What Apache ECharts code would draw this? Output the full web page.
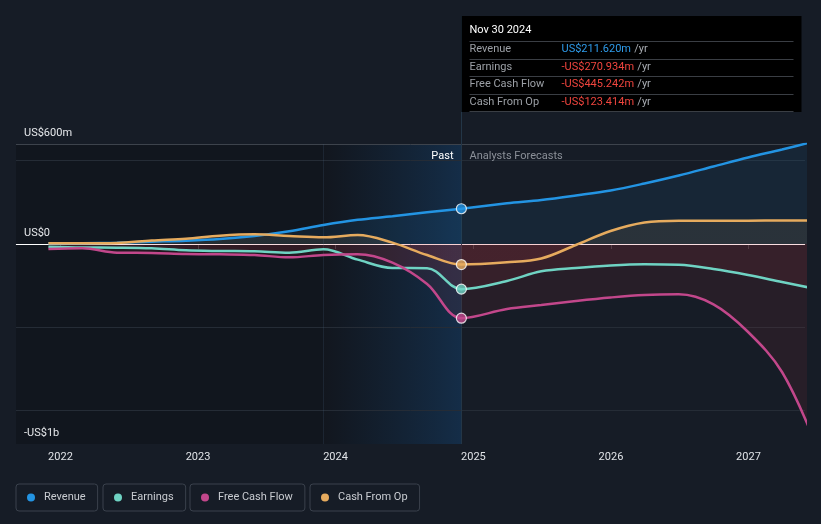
<!DOCTYPE html>
<html><head><meta charset="utf-8">
<script src="https://cdn.jsdelivr.net/npm/echarts@6/dist/echarts.min.js"></script>
<style>html,body{margin:0;padding:0;background:#161c26;}#c{width:821px;height:524px;}</style>
</head><body><div id="c"></div>
<script>
// ---- data ----
const pastDates = ['2021-11-30','2022-02-28','2022-05-31','2022-08-31','2022-11-30','2023-02-28','2023-05-31','2023-08-31','2023-11-30','2024-02-29','2024-05-31','2024-08-31','2024-11-30'];
const forecastDates = ['2025-03-31','2025-06-30','2025-09-30','2025-12-31','2026-03-31','2026-06-30','2026-09-30','2026-12-31','2027-03-31','2027-06-30'];
const revenuePast = [4,5,8,14,20,30,48,76,114,145,166,190,211.62];
const revenueForecast = [244,264,291,321,363,411,465,519,567,618];
const earningsPast = [-16,-21,-22,-26,-38,-42,-44,-52,-32,-94,-144,-145,-270.934];
const earningsForecast = [-222,-164,-144,-129,-122,-125,-150,-186,-228,-270];
const fcfPast = [-30,-26,-52,-54,-60,-62,-66,-80,-66,-62,-112,-240,-445.242];
const fcfForecast = [-390,-366,-342,-321,-306,-302,-362,-528,-768,-1210];
const cfoPast = [4,4,6,21,32,50,58,48,40,54,8,-66,-123.414];
const cfoForecast = [-110,-87,-6,78,129,140,140,140,141,141];
const seriesNames = ['Revenue','Earnings','Free Cash Flow','Cash From Op'];
const yTickValues = [600, 0, -1200];
const yTickLabels = ['US$600m', 'US$0', '-US$1b'];
const gridValues = [600, 500, -500, -1000];
const xMin = '2021-09-05', xMax = '2027-05-31';
const bandStart = '2023-11-30';

// ---- styling ----
const FONT = 'Roboto, "Noto Sans", sans-serif';
const COLORS = ['#2394e3', '#6fd3c3', '#c2478b', '#e6ab5e'];
const nowDate = pastDates[pastDates.length - 1];

function pairs(d, v) { return d.map((x, i) => [x, v[i]]); }
const allDates = pastDates.concat(forecastDates);
const seriesValues = [
  revenuePast.concat(revenueForecast),
  earningsPast.concat(earningsForecast),
  fcfPast.concat(fcfForecast),
  cfoPast.concat(cfoForecast)
];
const nowValues = [revenuePast, earningsPast, fcfPast, cfoPast].map(a => a[a.length - 1]);

const chart = echarts.init(document.getElementById('c'), null, {renderer: 'canvas'});

const legendLefts = [16, 103, 190, 310];
const legends = seriesNames.map((n, i) => ({
  data: [n], left: legendLefts[i], top: 484, orient: 'horizontal',
  icon: 'circle', itemWidth: 16, itemHeight: 8, symbolKeepAspect: true,
  padding: [7, 12, 7, 11], borderColor: '#3a414c', borderWidth: 1, borderRadius: 3,
  selectedMode: false,
  textStyle: {color: '#c9ccd1', fontSize: 11, fontFamily: FONT, lineHeight: 13}
}));

function mkSeries(fillTop, fillBot) {
  return seriesNames.map((n, i) => ({
    name: n, type: 'line', data: pairs(allDates, seriesValues[i]),
    smooth: 0.35, showSymbol: false, symbol: 'none', z: 3,
    lineStyle: {color: COLORS[i], width: 2.5},
    itemStyle: {color: COLORS[i]},
    areaStyle: {origin: 0, color: (i === 0) ? 'rgba(35,148,227,0.12)' :
      (i === 3 ? new echarts.graphic.LinearGradient(0, fillTop, 0, fillBot, [
        {offset: 0, color: 'rgba(230,171,94,0.13)'},
        {offset: 1/3, color: 'rgba(230,171,94,0.13)'},
        {offset: 1/3, color: 'rgba(220,60,70,0.12)'},
        {offset: 1, color: 'rgba(220,60,70,0.12)'}], true)
      : 'rgba(220,60,70,0.12)')},
    emphasis: {disabled: true}
  }));
}

function buildOption(fillTop, fillBot) {
  return {
    backgroundColor: '#161c26',
    animation: false,
    textStyle: {fontFamily: FONT},
    grid: {left: 16, right: 16, top: 144, bottom: 80, outerBoundsMode: 'none', containLabel: false},
    legend: legends,
    xAxis: {
      type: 'time', min: xMin, max: xMax,
      minInterval: 365 * 24 * 3600 * 1000, maxInterval: 366 * 24 * 3600 * 1000,
      axisLine: {show: true, lineStyle: {color: '#3a4048', width: 1}},
      axisTick: {show: true, length: 5, lineStyle: {color: '#3a4048'}},
      splitLine: {show: false},
      axisLabel: {color: '#e0e3e7', fontSize: 11, fontFamily: FONT, margin: 8,
        showMinLabel: false, showMaxLabel: false,
        formatter: v => String(new Date(v).getFullYear())}
    },
    yAxis: {
      type: 'value', min: -1200, max: 600, interval: 100,
      axisLine: {show: false}, axisTick: {show: false}, splitLine: {show: false},
      axisLabel: {inside: true, margin: 8, verticalAlign: 'bottom', padding: [0, 0, 5, 0],
        color: '#e6e8eb', fontSize: 11, fontFamily: FONT,
        formatter: v => { const i = yTickValues.indexOf(v); return i >= 0 ? yTickLabels[i] : ''; }}
    },
    series: [
      {
        name: 'bg', type: 'line', data: [[xMin, null]], silent: true, z: 1,
        markArea: {silent: true, z: 0, data: [
          [{xAxis: xMin, itemStyle: {color: 'rgba(0,0,0,0.2)'}}, {xAxis: bandStart}],
          [{xAxis: bandStart, itemStyle: {color: new echarts.graphic.LinearGradient(0, 0, 1, 0, [
            {offset: 0, color: 'rgba(0,0,0,0.2)'}, {offset: 1, color: 'rgba(15,100,180,0.24)'}])}},
           {xAxis: nowDate}]
        ]},
        markLine: {silent: true, symbol: 'none', z: 1, label: {show: false}, animation: false,
          data: gridValues.map(v => ({yAxis: v, lineStyle: {type: 'solid', width: 1,
              color: v === 600 ? '#3d434c' : '#252c36'}}))
            .concat([{yAxis: 0, lineStyle: {type: 'solid', width: 1, color: '#ffffff'}},
                     {xAxis: bandStart, lineStyle: {type: 'solid', width: 1, color: 'rgba(70,100,130,0.2)'}}])
        }
      }
    ].concat(mkSeries(fillTop, fillBot)).concat([{
      name: 'now', type: 'scatter', z: 6, symbolSize: 10, silent: true,
      data: nowValues.map((v, i) => ({value: [nowDate, v],
        itemStyle: {color: COLORS[i], borderColor: '#ffffff', borderWidth: 1.2}}))
    }])
  };
}

chart.setOption(buildOption(144, 444));
const yTop = chart.convertToPixel({yAxisIndex: 0}, 600);
const yBot = chart.convertToPixel({yAxisIndex: 0}, -1200);
chart.setOption(buildOption(yTop, yBot), true);

// ---- static tooltip box at the current date ----
const x0 = Math.round(chart.convertToPixel({xAxisIndex: 0}, nowDate)) + 0.5;
const months = ['Jan','Feb','Mar','Apr','May','Jun','Jul','Aug','Sep','Oct','Nov','Dec'];
const nd = new Date(nowDate + 'T00:00:00');
const title = months[nd.getMonth()] + ' ' + nd.getDate() + ' ' + nd.getFullYear();
function fmt(v) { return (v < 0 ? '-US$' : 'US$') + Math.abs(v).toFixed(3) + 'm'; }
const boxTop = 16, rowH = 17.5;
const els = [
  {type: 'line', z: 1, silent: true, shape: {x1: x0, y1: boxTop, x2: x0, y2: yBot},
   style: {stroke: '#233647', lineWidth: 1}},
  {type: 'rect', z: 10, silent: true, shape: {x: x0, y: boxTop, width: 340, height: 96},
   style: {fill: '#000000'}},
  {type: 'text', z: 11, silent: true, style: {text: title, x: x0 + 8, y: boxTop + 14.5,
   fill: '#ffffff', font: '11px ' + FONT, verticalAlign: 'middle'}},
  {type: 'text', z: 11, silent: true, style: {text: 'Past', x: x0 - 8, y: 156,
   fill: '#ffffff', font: '11px ' + FONT, align: 'right', verticalAlign: 'middle'}},
  {type: 'text', z: 11, silent: true, style: {text: 'Analysts Forecasts', x: x0 + 8, y: 156,
   fill: '#8b9098', font: '11px ' + FONT, align: 'left', verticalAlign: 'middle'}}
];
for (let i = 0; i < 5; i++) {
  const y = Math.round(boxTop + 25 + rowH * i) + 0.5;
  els.push({type: 'line', z: 11, silent: true, shape: {x1: x0 + 8, y1: y, x2: x0 + 332, y2: y},
    style: {stroke: '#3a3e44', lineWidth: 1}});
}
seriesNames.forEach((n, i) => {
  const y = boxTop + 33.5 + rowH * i;
  els.push({type: 'text', z: 11, silent: true, style: {text: n, x: x0 + 8, y: y,
    fill: '#9ca0a6', font: '11px ' + FONT, verticalAlign: 'middle'}});
  els.push({type: 'text', z: 11, silent: true, style: {
    text: '{v|' + fmt(nowValues[i]) + '} {u|/yr}', x: x0 + 100, y: y, verticalAlign: 'middle',
    rich: {v: {fill: nowValues[i] < 0 ? '#f0453e' : '#2e9bea', font: '11px ' + FONT},
           u: {fill: '#a9adb3', font: '11px ' + FONT}}}});
});
chart.setOption({graphic: {elements: els}});
</script></body></html>
